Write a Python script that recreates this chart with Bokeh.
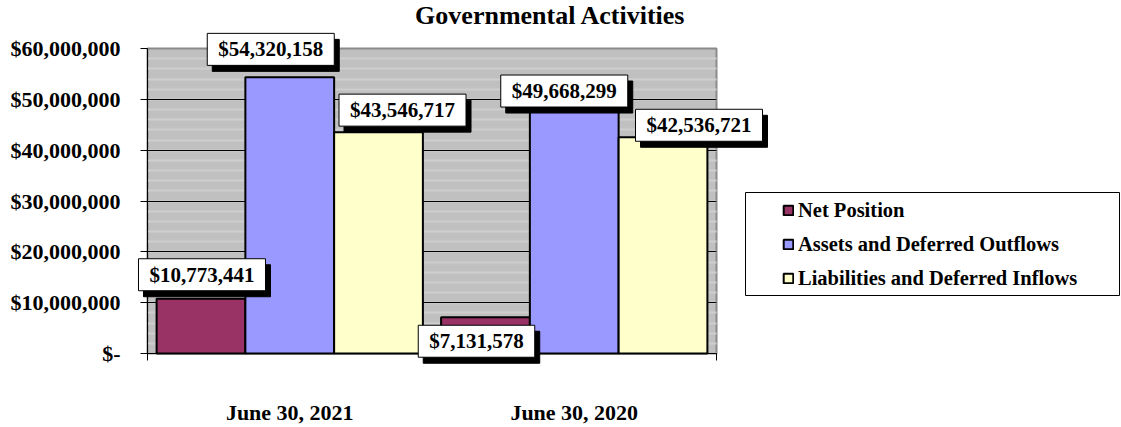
from bokeh.plotting import figure
from bokeh.models import (Range1d, FixedTicker, SingleIntervalTicker, Label,
                          Legend, LegendItem, BoxAnnotation)
from bokeh.embed import file_html
from bokeh.resources import INLINE

# ---------------- data ----------------
categories = ["June 30, 2021", "June 30, 2020"]
series_names = ["Net Position", "Assets and Deferred Outflows",
                "Liabilities and Deferred Inflows"]
net_position = [10773441, 7131578]
assets_deferred_outflows = [54320158, 49668299]
liabilities_deferred_inflows = [43546717, 42536721]
y_ticks = [0, 10000000, 20000000, 30000000, 40000000, 50000000, 60000000]
y_tick_labels = ["$-", "$10,000,000", "$20,000,000", "$30,000,000",
                 "$40,000,000", "$50,000,000", "$60,000,000"]
title_text = "Governmental Activities"

# ---------------- style / layout ----------------
colors = ["#993366", "#9999ff", "#ffffcc"]
bar_width = 0.312
bar_offsets = [-0.312, 0.0, 0.312]
# pixel offsets of each data-label box centre from the bar's top centre
label_offsets = [[(1, 24), (-9, -24)],
                 [(-19, 28), (-10, 10)],
                 [(24, 22), (36, 12)]]
FONT = "Liberation Serif"

W, H = 1120, 426
PLOT_L, PLOT_R, PLOT_T, PLOT_B = 147, 716, 48, 353   # plot-area pixels
y_max = y_ticks[-1]
n_cat = len(categories)
px_per_x = (PLOT_R - PLOT_L) / n_cat
px_per_y = (PLOT_B - PLOT_T) / y_max

values = [net_position, assets_deferred_outflows, liabilities_deferred_inflows]

p = figure(width=W, height=H, output_backend="svg", toolbar_location=None,
           x_range=Range1d(-PLOT_L / px_per_x, (W - PLOT_L) / px_per_x),
           y_range=Range1d(-(H - PLOT_B) / px_per_y, PLOT_B / px_per_y),
           min_border=0)
p.background_fill_color = "white"
p.border_fill_color = "white"
p.outline_line_color = None

# plot-area wall
p.add_layout(BoxAnnotation(left=0, right=n_cat, bottom=0, top=y_max,
                           fill_color="#c0c0c0", fill_alpha=1,
                           line_color="#8a8a8a", line_width=2, line_alpha=1,
                           level="image"))

# grid
p.xgrid.visible = False
p.ygrid.ticker = SingleIntervalTicker(interval=10000000, num_minor_ticks=5)
p.ygrid.bounds = (0, y_max - 1)
p.ygrid.cross_bounds = (0, n_cat)
p.ygrid.grid_line_color = "black"
p.ygrid.grid_line_width = 1
p.ygrid.minor_grid_line_color = "#cecece"
p.ygrid.minor_grid_line_width = 2

# y axis
p.yaxis.fixed_location = 0
p.yaxis.bounds = (0, y_max)
p.yaxis.ticker = SingleIntervalTicker(interval=10000000, num_minor_ticks=5)
p.yaxis.major_label_overrides = {t: l for t, l in zip(y_ticks, y_tick_labels)}
p.yaxis.major_tick_out = 7
p.yaxis.major_tick_in = 0
p.yaxis.minor_tick_out = 0
p.yaxis.minor_tick_in = 0
p.yaxis.major_label_standoff = 20
p.yaxis.axis_line_color = "black"
p.yaxis.major_tick_line_color = "black"
p.yaxis.major_label_text_font = FONT
p.yaxis.major_label_text_font_style = "bold"
p.yaxis.major_label_text_font_size = "22px"
p.yaxis.major_label_text_color = "black"

# x axis
cat_pos = [i + 0.5 for i in range(n_cat)]
p.xaxis.fixed_location = 0
p.xaxis.bounds = (0, n_cat)
p.xaxis.ticker = FixedTicker(ticks=cat_pos, minor_ticks=list(range(n_cat + 1)))
p.xaxis.major_label_overrides = {c: n for c, n in zip(cat_pos, categories)}
p.xaxis.major_tick_out = 0
p.xaxis.major_tick_in = 0
p.xaxis.minor_tick_out = 7
p.xaxis.minor_tick_in = 0
p.xaxis.minor_tick_line_color = "black"
p.xaxis.axis_line_color = "black"
p.xaxis.major_label_standoff = 39
p.xaxis.major_label_text_font = FONT
p.xaxis.major_label_text_font_style = "bold"
p.xaxis.major_label_text_font_size = "22px"
p.xaxis.major_label_text_color = "black"

# bars
renderers = []
for s, vals in enumerate(values):
    xs = [c + bar_offsets[s] for c in cat_pos]
    r = p.vbar(x=xs, top=vals, width=bar_width, bottom=0,
               fill_color=colors[s], line_color="black", line_width=2)
    renderers.append(r)

# data labels with drop shadow
pad = dict(left=11, right=11, top=4, bottom=4)
for s, vals in enumerate(values):
    for c, v in enumerate(vals):
        x = cat_pos[c] + bar_offsets[s]
        dx, dy = label_offsets[s][c]
        txt = "${:,}".format(v)
        common = dict(x=x, y=v, text=txt, text_font=FONT, text_font_style="bold",
                      text_font_size="21px", text_align="center",
                      text_baseline="middle", padding=pad)
        shadow = Label(x_offset=dx + 5, y_offset=dy - 6, text_color="black",
                       background_fill_color="black", border_line_color="black",
                       **common)
        box = Label(x_offset=dx, y_offset=dy, text_color="black",
                    background_fill_color="white", border_line_color="black",
                    border_line_width=1, **common)
        p.add_layout(shadow)
        p.add_layout(box)

# title
p.add_layout(Label(x=550, y=H - 15, x_units="screen", y_units="screen",
                   text=title_text, text_font=FONT, text_font_style="bold",
                   text_font_size="26px", text_align="center",
                   text_baseline="middle", text_color="black"))

# legend frame + legend
p.add_layout(BoxAnnotation(left=745, right=1119, bottom=H - 295, top=H - 192,
                           left_units="screen", right_units="screen",
                           bottom_units="screen", top_units="screen",
                           fill_color="white", fill_alpha=1,
                           line_color="black", line_width=1, line_alpha=1))
legend = Legend(items=[LegendItem(label=n, renderers=[r])
                       for n, r in zip(series_names, renderers)],
                location=(782, H - 290), orientation="vertical",
                glyph_width=12, glyph_height=12, label_standoff=4,
                label_height=24, spacing=10, padding=0, margin=0,
                label_text_font=FONT, label_text_font_style="bold",
                label_text_font_size="20.5px", label_text_color="black",
                border_line_alpha=0, background_fill_alpha=0)
p.add_layout(legend, "center")

open("out.html", "w").write(file_html(p, INLINE))
